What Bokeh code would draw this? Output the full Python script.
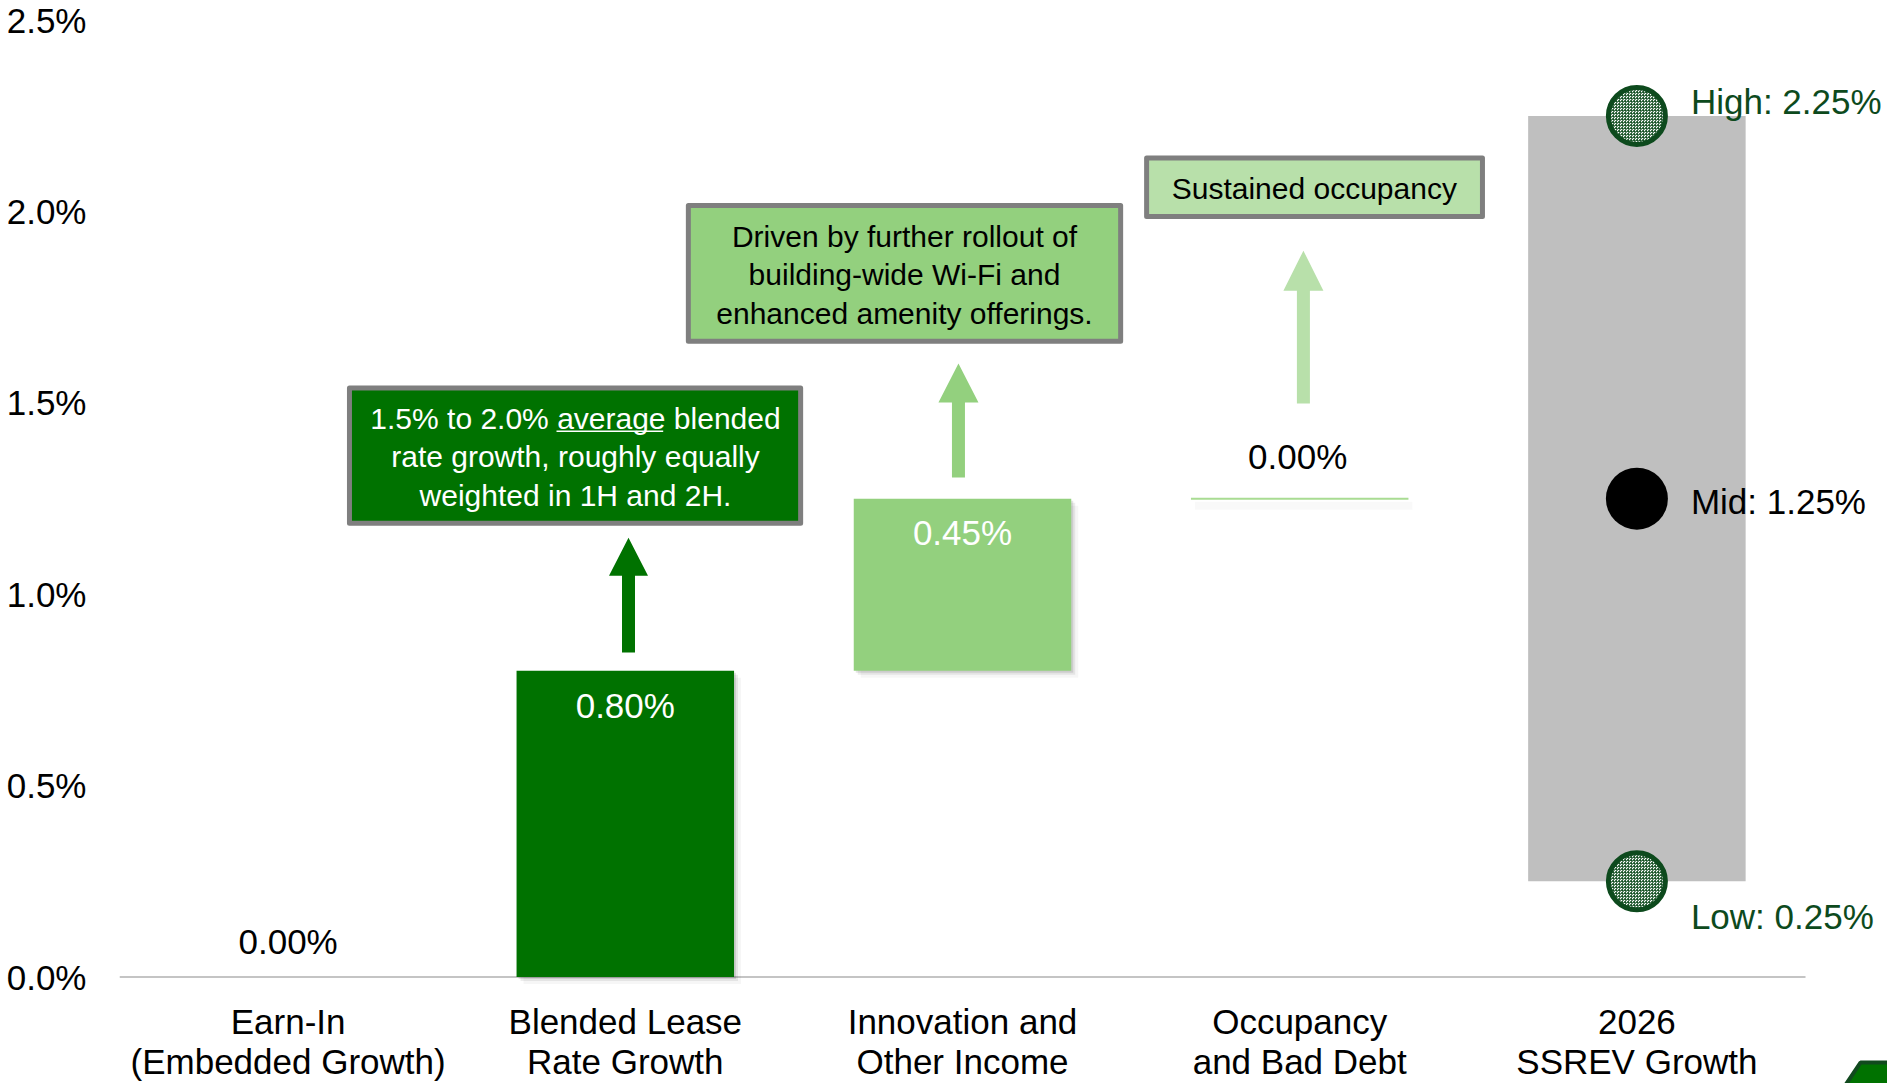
from bokeh.plotting import figure
from bokeh.models import Range1d, FixedTicker, PrintfTickFormatter, ColumnDataSource
from bokeh.core.properties import value
from bokeh.embed import file_html
from bokeh.resources import INLINE

# ---------------- data ----------------
categories = ["Earn-In\n(Embedded Growth)", "Blended Lease\nRate Growth",
              "Innovation and\nOther Income", "Occupancy\nand Bad Debt",
              "2026\nSSREV Growth"]
step_values = [0.00, 0.80, 0.45, 0.00]          # % contribution of each driver
step_labels = ["0.00%", "0.80%", "0.45%", "0.00%"]
step_colors = ["#FFFFFF", "#007200", "#93D07E", "#A9DC93"]
range_low, range_mid, range_high = 0.25, 1.25, 2.25
range_labels = ["High: 2.25%", "Mid: 1.25%", "Low: 0.25%"]
y_ticks = [0.0, 0.5, 1.0, 1.5, 2.0, 2.5]
notes = ["1.5% to 2.0% average blended\nrate growth, roughly equally\nweighted in 1H and 2H.",
         "Driven by further rollout of\nbuilding-wide Wi-Fi and\nenhanced amenity offerings.",
         "Sustained occupancy"]
note_fill = ["#007200", "#93D07E", "#B8E0AA"]
note_text_color = ["#FFFFFF", "#000000", "#000000"]
arrow_colors = ["#007200", "#93D07E", "#B8E0AA"]

FONT = "Liberation Sans"
DARK = "#0D4A1D"

# ---------------- layout helpers ----------------
PX_X = 337.2   # screen px per category
PX_Y = 382.7   # screen px per 1 %
def dx(px): return px / PX_X
def dy(px): return px / PX_Y

BAR_W = 0.645
xs = [i + 0.5 for i in range(len(categories))]
bottoms, tops = [], []
acc = 0.0
for v in step_values:
    bottoms.append(acc)
    acc += v
    tops.append(acc)

W, H = 1887, 1083
LEFT, TOP = 119, 19
p = figure(width=W, height=H, output_backend="svg", toolbar_location=None,
           x_range=Range1d(0, (W - LEFT) / PX_X),
           y_range=Range1d(2.502 - (H - TOP) / PX_Y, 2.502),
           x_axis_location=None, min_border_left=LEFT, min_border_right=0,
           min_border_top=TOP, min_border_bottom=0)
p.outline_line_color = None
p.grid.grid_line_color = None
p.background_fill_color = "white"

ax = p.yaxis[0]
ax.ticker = FixedTicker(ticks=y_ticks)
ax.formatter = PrintfTickFormatter(format="%.1f%%")
ax.axis_line_color = None
ax.major_tick_line_color = None
ax.minor_tick_line_color = None
ax.major_tick_out = 0
ax.major_label_standoff = 33
ax.major_label_text_font = FONT
ax.major_label_text_font_size = "35px"
ax.major_label_text_color = "#000000"

# baseline
p.segment(x0=[0], y0=[0], x1=[len(categories)], y1=[0], line_color="#C4C4C4", line_width=2)

# soft shadows under the driver bars
sx = xs[1:4]
for off, a in [(2, 0.10), (4, 0.07), (7, 0.035)]:
    p.quad(left=[x - BAR_W / 2 + dx(off) for x in sx[:2]],
           right=[x + BAR_W / 2 + dx(off) for x in sx[:2]],
           bottom=[b - dy(off) for b in bottoms[1:3]],
           top=[t - dy(off) for t in tops[1:3]],
           fill_color="black", fill_alpha=a, line_color=None)
p.quad(left=[sx[2] - BAR_W / 2 + dx(4)], right=[sx[2] + BAR_W / 2 + dx(4)],
       bottom=[tops[3] - dy(11)], top=[tops[3] - dy(3)],
       fill_color="black", fill_alpha=0.025, line_color=None)

# waterfall bars
src = ColumnDataSource(dict(x=xs[:4], bottom=bottoms, top=tops, color=step_colors,
                            line_alpha=[0, 0, 0, 1]))
p.vbar(x="x", width=BAR_W, bottom="bottom", top="top", fill_color="color",
       line_color="color", line_alpha="line_alpha", line_width=2, source=src)

# total range bar
p.vbar(x=[xs[4]], width=BAR_W, bottom=[range_low], top=[range_high],
       fill_color="#BFBFBF", line_color=None)

# range markers
p.scatter(x=[xs[4], xs[4]], y=[range_high, range_low], size=57, fill_color="white",
          hatch_pattern="criss_cross", hatch_color=DARK, hatch_scale=3, hatch_weight=0.7,
          line_color=DARK, line_width=5)
p.scatter(x=[xs[4]], y=[range_mid], size=62, fill_color="black", line_color=None)

p.text(x=[xs[4]] * 3, y=[range_high, range_mid, range_low], text=range_labels,
       x_offset=54, y_offset=[-14, 3, 35], text_align="left", text_baseline="middle",
       text_font=value(FONT), text_font_size="35px",
       text_color=[DARK, "#000000", DARK])

# value labels
p.text(x=xs[:4], y=tops, text=step_labels, x_offset=[0, 0, 0, -2],
       y_offset=[-36, 35, 34, -42], text_align="center", text_baseline="middle",
       text_font=value(FONT), text_font_size="35px",
       text_color=["#000000", "#FFFFFF", "#FFFFFF", "#000000"])

# category labels (two lines each)
line1 = [c.split("\n")[0] for c in categories]
line2 = [c.split("\n")[1] for c in categories]
p.text(x=xs, y=[-0.1163] * len(xs), text=line1, text_align="center", text_baseline="middle",
       text_font=value(FONT), text_font_size="35px", text_color="#000000")
p.text(x=xs, y=[-0.2208] * len(xs), text=line2, text_align="center", text_baseline="middle",
       text_font=value(FONT), text_font_size="35px", text_color="#000000")

# arrows
def arrow(xc, y0, y1, shaft_px, head_w_px, head_len_px):
    hw, hh, hl = dx(shaft_px / 2), dx(head_w_px / 2), dy(head_len_px)
    return ([xc - hw, xc - hw, xc - hh, xc, xc + hh, xc + hw, xc + hw],
            [y0, y1 - hl, y1 - hl, y1, y1 - hl, y1 - hl, y0])

arrow_geom = [arrow(1.5095, 0.848, 1.148, 13, 39, 38),
              arrow(2.488, 1.305, 1.603, 13, 40, 39),
              arrow(3.511, 1.4986, 1.898, 13, 40, 40)]
p.patches(xs=[g[0] for g in arrow_geom], ys=[g[1] for g in arrow_geom],
          fill_color=arrow_colors, line_color=None)

# note boxes
box_l = [0.682, 1.687, 3.046]
box_r = [2.020, 2.969, 4.042]
box_b = [1.186, 1.661, 1.987]
box_t = [1.539, 2.016, 2.140]
p.quad(left=box_l, right=box_r, bottom=box_b, top=box_t, fill_color=note_fill,
       line_color="#7F7F7F", line_width=5, line_join="round")

note_cx = [1.3523, 2.328, 3.5433]
note_y0 = [1.4607, 1.9355, 2.0596]
LINE_STEP = dy(38.5)
for i, note in enumerate(notes):
    lines = note.split("\n")
    p.text(x=[note_cx[i]] * len(lines), y=[note_y0[i] - k * LINE_STEP for k in range(len(lines))],
           text=lines, text_align="center", text_baseline="middle",
           text_font=value(FONT), text_font_size="30px", text_color=note_text_color[i])

# underline of "average"
p.segment(x0=[1.296], y0=[1.4262], x1=[1.6124], y1=[1.4262], line_color="white", line_width=1.6)

# partial shape at bottom-right corner
p.patch(x=[5.088, 5.1631, 5.40, 5.40], y=[-0.3227, -0.2234, -0.2234, -0.3227],
        fill_color="#007200", line_color="#114A1E", line_width=4)

open("out.html", "w").write(file_html(p, INLINE))
